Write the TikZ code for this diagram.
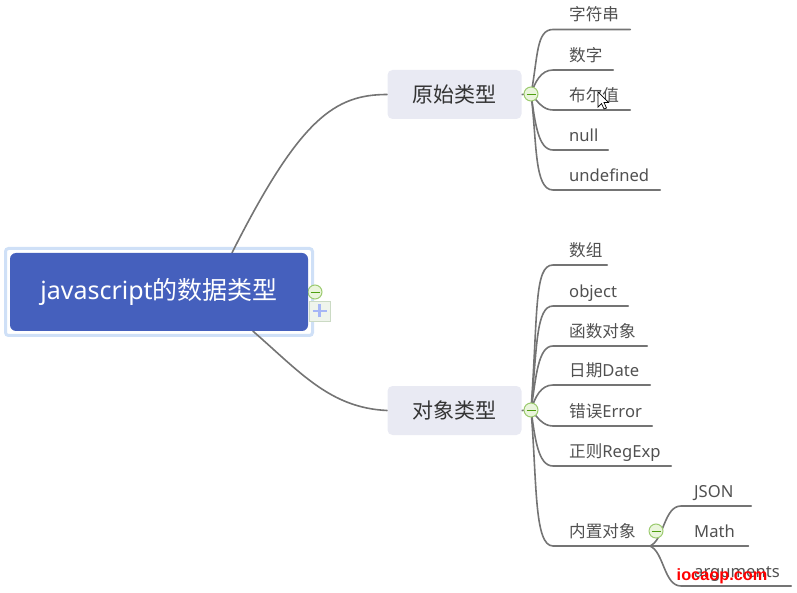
\documentclass[tikz,border=0pt]{standalone}
\usepackage{fontspec}
\setmainfont{Noto Sans}
\newfontfamily\cjk{Noto Sans CJK SC}
\newfontfamily\wmfont{Liberation Sans}
\usetikzlibrary{backgrounds}
\definecolor{rootblue}{HTML}{4560BD}
\definecolor{ringblue}{HTML}{CFE0F7}
\definecolor{subfill}{HTML}{E9EAF3}
\definecolor{linegray}{HTML}{747474}
\definecolor{leaftext}{HTML}{505050}
\definecolor{iconfill}{HTML}{EAF5DC}
\definecolor{iconline}{HTML}{9CCB70}
\definecolor{iconbar}{HTML}{4FA010}
\definecolor{plusfill}{HTML}{EFF4EC}
\definecolor{plusline}{HTML}{CBDAC4}
\definecolor{plusbar}{HTML}{A6B6F6}
\tikzset{
  x=1pt,y=1pt,
  conn/.style={draw=linegray,line width=1.6pt,line cap=round},
  rootbox/.style={fill=rootblue,rounded corners=6pt,minimum width=298pt,minimum height=78pt,inner sep=0pt,text=white,font=\fontsize{25}{29}\selectfont},
  ringbox/.style={draw=ringblue,line width=3pt,fill=white,rounded corners=3pt,minimum width=307pt,minimum height=87pt,inner sep=0pt},
  subbox/.style={fill=subfill,rounded corners=5pt,minimum width=134pt,minimum height=49pt,inner sep=0pt,text=black!80,font=\cjk\fontsize{21}{25}\selectfont},
  leaf/.style={anchor=south west,inner sep=0pt,text depth=8.3pt,text height=18pt,text=leaftext,align=left,font=\fontsize{16.6}{20}\selectfont},
  minusicon/.style={circle,draw=iconline,fill=iconfill,line width=1pt,minimum size=14pt,inner sep=0pt,
    path picture={\draw[iconbar,line width=.9pt] ([xshift=2.5pt]path picture bounding box.west) -- ([xshift=-2.5pt]path picture bounding box.east);}},
  plusicon/.style={rectangle,draw=plusline,fill=plusfill,line width=.8pt,minimum width=21pt,minimum height=20pt,inner sep=0pt,
    path picture={\draw[plusbar,line width=2.4pt] ([xshift=3.5pt]path picture bounding box.west) -- ([xshift=-3.5pt]path picture bounding box.east);
      \draw[plusbar,line width=2.4pt] ([yshift=3.5pt]path picture bounding box.south) -- ([yshift=-3.5pt]path picture bounding box.north);}},
  wmark/.style={text=red,font=\wmfont\bfseries\fontsize{16.3}{20}\selectfont}
}
\begin{document}
\begin{tikzpicture}
\useasboundingbox (0,0) rectangle (797,592);
% main boxes
\node[subbox] (s1) at (454.5,497.5) {原始类型};
\node[subbox] (s2) at (454.5,181.5) {对象类型};
% first group
\node[leaf,text width=77pt] (a1) at (553,562.5) {\hspace*{16pt}{\cjk 字符串}};
\node[leaf,text width=60pt] (a2) at (553,522) {\hspace*{16pt}{\cjk 数字}};
\node[leaf,text width=77pt] (a3) at (553,482) {\hspace*{16pt}{\cjk 布尔值}};
\node[leaf,text width=55pt] (a4) at (553,442) {\hspace*{16pt}null};
\node[leaf,text width=107pt] (a5) at (553,402) {\hspace*{16pt}undefined};
% second group
\node[leaf,text width=54pt] (b1) at (553,327) {\hspace*{16pt}{\cjk 数组}};
\node[leaf,text width=75pt] (b2) at (553,286) {\hspace*{16pt}object};
\node[leaf,text width=94pt] (b3) at (553,246) {\hspace*{16pt}{\cjk 函数对象}};
\node[leaf,text width=97pt] (b4) at (553,207) {\hspace*{16pt}{\cjk 日期}Date};
\node[leaf,text width=99pt] (b5) at (553,166) {\hspace*{16pt}{\cjk 错误}Error};
\node[leaf,text width=118pt] (b6) at (553,126) {\hspace*{16pt}{\cjk 正则}RegExp};
\node[leaf,text width=97pt] (b7) at (553,46) {\hspace*{16pt}{\cjk 内置对象}};
% third level
\node[leaf,text width=70pt] (c1) at (681,86) {\hspace*{13pt}JSON};
\node[leaf,text width=67pt] (c2) at (681,46) {\hspace*{13pt}Math};
\node[leaf,text width=110pt] (c3) at (681,6) {\hspace*{13pt}arguments};
% icons
\node[minusicon] (h1) at (531,498) {};
\node[minusicon] (h2) at (531,182) {};
\node[minusicon] (h3) at (656,61) {};
\node[minusicon] (h0) at (315,300) {};
\node[plusicon] (p0) at (319.5,281) {};
\coordinate (j1) at (650,46);
\node[rootbox] (root) at (159,300) {\raisebox{-2pt}{javascript{\cjk 的数据类型}}};
% connectors between the ring and the root
\begin{scope}[on background layer]
  \node[ringbox] (ring) at (159,300) {};
  \draw[conn] (s1.west) .. controls (335,497.5) and (300,474) .. ([xshift=73pt]root.north);
  \draw[conn] (s2.west) .. controls (330,184) and (300,220) .. ([xshift=94pt]root.south);
  \draw[conn] (s1.east) -- (h1.center);
  \draw[conn] (s2.east) -- (h2.center);
  \draw[conn] (h1.center) .. controls (538,535) and (536,562.5) .. (a1.south west) -- (a1.south east);
  \draw[conn] (h1.center) .. controls (535,510) and (541,522) .. (a2.south west) -- (a2.south east);
  \draw[conn] (h1.center) .. controls (538,490) and (543,482) .. (a3.south west) -- (a3.south east);
  \draw[conn] (h1.center) .. controls (535,470) and (538,442) .. (a4.south west) -- (a4.south east);
  \draw[conn] (h1.center) .. controls (537,450) and (534,402) .. (a5.south west) -- (a5.south east);
  \draw[conn] (h2.center) .. controls (538,280) and (534,327) .. (b1.south west) -- (b1.south east);
  \draw[conn] (h2.center) .. controls (537,245) and (536,286) .. (b2.south west) -- (b2.south east);
  \draw[conn] (h2.center) .. controls (536,215) and (538,246) .. (b3.south west) -- (b3.south east);
  \draw[conn] (h2.center) .. controls (535,195) and (541,207) .. (b4.south west) -- (b4.south east);
  \draw[conn] (h2.center) .. controls (538,174) and (543,166) .. (b5.south west) -- (b5.south east);
  \draw[conn] (h2.center) .. controls (535,154) and (538,126) .. (b6.south west) -- (b6.south east);
  \draw[conn] (h2.center) .. controls (537,110) and (534,46) .. (b7.south west) -- (b7.south east);
  \draw[conn] (j1) .. controls (664,52) and (664,86) .. (c1.south west) -- (c1.south east);
  \draw[conn] (j1) -- (c2.south west) -- (c2.south east);
  \draw[conn] (j1) .. controls (664,40) and (664,6) .. (c3.south west) -- (c3.south east);
\end{scope}
\node[wmark] (wm) at (722,16) {iocaop.com};
% mouse pointer
\draw[black,fill=white,line width=.7pt,line join=miter]
  (598,500) -- (598,485) -- (601.5,488.5) -- (604,483) -- (606.5,484) -- (604,489.5) -- (608.5,489.5) -- cycle;
\end{tikzpicture}
\end{document}
